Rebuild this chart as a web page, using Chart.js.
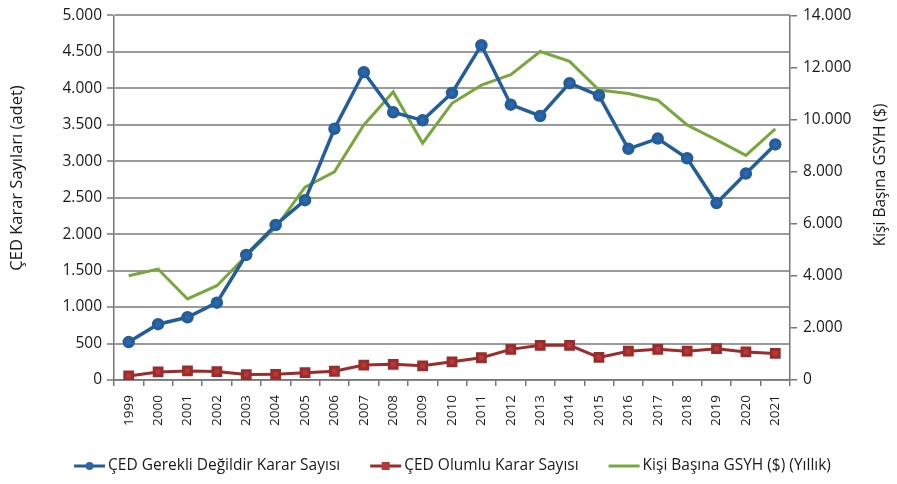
<!DOCTYPE html>
<html>
<head>
<meta charset="utf-8">
<script src="https://cdn.jsdelivr.net/npm/chart.js@4"></script>
<style>
  body { margin: 0; background: #fff; }
  #wrap { width: 897px; height: 484px; }
</style>
</head>
<body>
<div id="wrap"><canvas id="cedChart" width="897" height="484"></canvas></div>
<script>
// values
var years = ['1999','2000','2001','2002','2003','2004','2005','2006','2007','2008','2009','2010',
             '2011','2012','2013','2014','2015','2016','2017','2018','2019','2020','2021'];
var gerekliDegil = [520, 765, 860, 1060, 1715, 2125, 2465, 3445, 4220, 3670, 3560, 3935,
                    4590, 3775, 3620, 4070, 3900, 3170, 3310, 3040, 2425, 2830, 3230];
var olumlu = [55, 110, 125, 115, 75, 78, 100, 120, 205, 215, 195, 250,
              305, 420, 475, 475, 310, 395, 420, 395, 430, 385, 365];
var gsyh = [4000, 4260, 3110, 3620, 4770, 5850, 7400, 7990, 9790, 11060, 9090, 10620,
            11320, 11720, 12610, 12230, 11130, 11000, 10740, 9790, 9220, 8620, 9640];
var seriesNames = ['ÇED Gerekli Değildir Karar Sayısı', 'ÇED Olumlu Karar Sayısı', 'Kişi Başına GSYH ($) (Yıllık)'];
var leftTitle = 'ÇED Karar Sayıları (adet)';
var rightTitle = 'Kişi Başına GSYH ($)';

var FONT = '"Open Sans", sans-serif';
var TXT = '#1a1a1a';

function trNum(v) {
    return String(v).replace(/\B(?=(\d{3})+(?!\d))/g, '.');
}

function vText(ctx, text, x, y, size) {
    ctx.save();
    ctx.font = size + 'px ' + FONT;
    ctx.fillStyle = TXT;
    ctx.textAlign = 'center';
    ctx.textBaseline = 'middle';
    ctx.translate(x, y);
    ctx.rotate(-Math.PI / 2);
    ctx.fillText(text, 0, 0);
    ctx.restore();
}

// axis titles (both read bottom-to-top) and a legend with line + marker
var extrasPlugin = {
    id: 'extras',
    afterDraw: function(chart) {
        var ctx = chart.ctx;
        vText(ctx, leftTitle, 17, 178, 16.5);
        vText(ctx, rightTitle, 881, 175, 15.5);

        ctx.save();
        ctx.font = '15.5px ' + FONT;
        ctx.textBaseline = 'middle';
        var lineW = 31, gapText = 3, gapItem = 30;
        var sets = chart.data.datasets;
        var total = 0;
        sets.forEach(function(ds, i) {
            total += lineW + gapText + ctx.measureText(ds.label).width;
            if (i < sets.length - 1) total += gapItem;
        });
        var x = (chart.width - total) / 2 + 4;
        var y = 466;
        sets.forEach(function(ds) {
            ctx.strokeStyle = ds.borderColor;
            ctx.lineWidth = 3;
            ctx.beginPath();
            ctx.moveTo(x, y);
            ctx.lineTo(x + lineW, y);
            ctx.stroke();
            if (ds.pointRadius > 0) {
                ctx.fillStyle = ds.pointBackgroundColor;
                if (ds.pointStyle === 'rect') {
                    ctx.fillRect(x + lineW / 2 - 4, y - 4, 8, 8);
                } else {
                    ctx.beginPath();
                    ctx.arc(x + lineW / 2, y, 4, 0, Math.PI * 2);
                    ctx.fill();
                }
            }
            ctx.fillStyle = TXT;
            ctx.textAlign = 'left';
            ctx.fillText(ds.label, x + lineW + gapText, y);
            x += lineW + gapText + ctx.measureText(ds.label).width + gapItem;
        });
        ctx.restore();
    }
};

var ctx = document.getElementById('cedChart');
new Chart(ctx, {
    type: 'line',
    data: {
        labels: years,
        datasets: [{
            label: seriesNames[0],
            data: gerekliDegil,
            yAxisID: 'y',
            borderColor: '#245d9c',
            backgroundColor: '#245d9c',
            pointBackgroundColor: '#2a68ab',
            pointBorderColor: '#245d9c',
            pointStyle: 'circle',
            pointRadius: 4.5,
            borderWidth: 3.5
        }, {
            label: seriesNames[1],
            data: olumlu,
            yAxisID: 'y',
            borderColor: '#9c2b2b',
            backgroundColor: '#9c2b2b',
            pointBackgroundColor: '#b23a3a',
            pointBorderColor: '#9c2b2b',
            pointStyle: 'rect',
            pointRadius: 5.5,
            borderWidth: 3
        }, {
            label: seriesNames[2],
            data: gsyh,
            yAxisID: 'y1',
            borderColor: '#78a83c',
            backgroundColor: '#78a83c',
            pointRadius: 0,
            borderWidth: 3
        }]
    },
    options: {
        responsive: false,
        animation: false,
        layout: { padding: { top: 13, bottom: 54, left: 0, right: 0 } },
        plugins: {
            legend: { display: false },
            tooltip: { enabled: false }
        },
        scales: {
            x: {
                offset: true,
                grid: { offset: true, drawOnChartArea: false, color: '#777', tickLength: 6, lineWidth: 1.5 },
                border: { color: '#777', width: 1.5 },
                ticks: { color: TXT, font: { family: FONT, size: 13.5 }, minRotation: 90, maxRotation: 90, padding: 9 },
                afterFit: function(scale) { scale.height = 50; }
            },
            y: {
                position: 'left',
                min: 0, max: 5000,
                ticks: { stepSize: 500, color: TXT, font: { family: FONT, size: 15.5 }, padding: 5,
                         callback: function(v) { return trNum(v); } },
                grid: { color: '#9a9a9a', lineWidth: 2, tickLength: 7 },
                border: { color: '#777', width: 1.5 },
                afterFit: function(scale) { scale.width = 114; }
            },
            y1: {
                position: 'right',
                min: 0, max: 14000,
                ticks: { stepSize: 2000, color: TXT, font: { family: FONT, size: 15.5 }, padding: 6,
                         callback: function(v) { return trNum(v); } },
                grid: { drawOnChartArea: false, color: '#777', lineWidth: 1.5, tickLength: 7 },
                border: { color: '#777', width: 1.5 },
                afterFit: function(scale) { scale.width = 107; }
            }
        }
    },
    plugins: [extrasPlugin]
});
</script>
</body>
</html>
